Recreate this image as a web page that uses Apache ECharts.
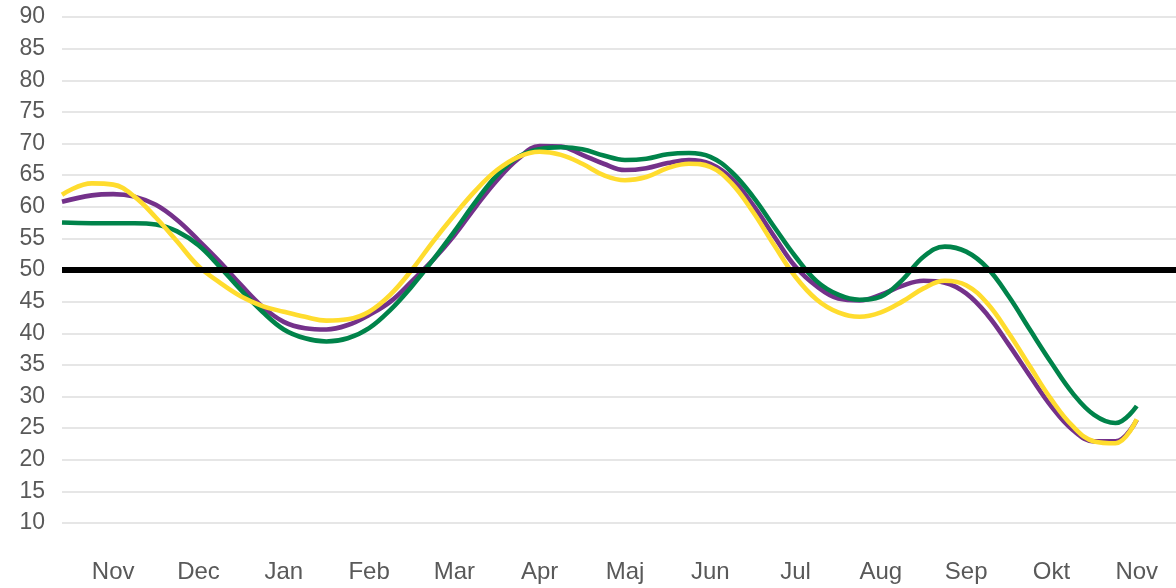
<!DOCTYPE html>
<html>
<head>
<meta charset="utf-8">
<script src="https://cdn.jsdelivr.net/npm/echarts@6/dist/echarts.min.js"></script>
<style>
html,body{margin:0;padding:0;background:#fff;}
#chart{width:1176px;height:588px;}
</style>
</head>
<body>
<div id="chart"></div>
<script>
// x positions in months (0 = first "Nov" label, 12 = last "Nov" label)
const xPos = [-0.6, -0.25, 0, 0.25, 0.5, 0.75, 1, 1.25, 1.5, 1.75, 2, 2.25, 2.5, 2.75, 3, 3.25, 3.5, 3.75, 4, 4.25, 4.5, 4.75, 5, 5.25, 5.5, 5.75, 6, 6.25, 6.5, 6.75, 7, 7.25, 7.5, 7.75, 8, 8.25, 8.5, 8.75, 9, 9.25, 9.5, 9.75, 10, 10.25, 10.5, 10.75, 11, 11.25, 11.5, 11.75, 12];
const purple = [60.8, 61.8, 62.0, 61.6, 60.3, 57.9, 54.7, 51.3, 47.6, 44.2, 41.8, 40.8, 40.6, 41.3, 42.9, 45.0, 48.2, 51.6, 55.5, 60.0, 64.2, 67.6, 69.6, 69.5, 68.2, 66.8, 65.8, 66.1, 66.9, 67.4, 66.8, 64.5, 60.3, 55.3, 50.5, 47.4, 45.5, 45.2, 46.1, 47.5, 48.3, 48.0, 46.3, 42.9, 38.2, 33.2, 28.4, 24.7, 22.9, 22.9, 26.3];
const green  = [57.5, 57.4, 57.4, 57.4, 57.2, 56.1, 53.9, 50.5, 46.8, 43.4, 40.6, 39.2, 38.7, 39.2, 40.8, 43.7, 47.4, 51.6, 56.1, 60.8, 65.0, 67.9, 69.1, 69.4, 69.1, 68.1, 67.4, 67.6, 68.3, 68.5, 67.9, 65.5, 61.6, 56.8, 52.1, 48.2, 46.1, 45.3, 45.8, 48.4, 52.1, 53.7, 52.9, 50.3, 45.8, 40.5, 35.3, 30.5, 27.1, 25.8, 28.5];
const yellow = [61.9, 63.7, 63.5, 61.6, 58.3, 54.5, 50.6, 48.0, 45.8, 44.3, 43.4, 42.6, 42.0, 42.2, 43.4, 46.1, 50.0, 54.5, 58.7, 62.6, 65.8, 67.9, 68.7, 68.2, 66.8, 65.0, 64.2, 64.7, 66.1, 66.8, 66.3, 63.7, 59.2, 53.9, 48.9, 45.3, 43.3, 42.6, 43.3, 45.0, 47.1, 48.3, 47.6, 44.7, 40.0, 34.7, 29.5, 25.3, 22.9, 22.6, 26.4];
const monthLabels = ['Nov', 'Dec', 'Jan', 'Feb', 'Mar', 'Apr', 'Maj', 'Jun', 'Jul', 'Aug', 'Sep', 'Okt', 'Nov'];
const labelPos = [0, 1, 2, 3, 4, 5, 6, 7, 8, 9, 10, 11, 12];
const refLevel = 50;

const pairs = arr => xPos.map((x, i) => [x, arr[i]]);
const font = '"Liberation Sans", Arial, sans-serif';

const chart = echarts.init(document.getElementById('chart'), null, {renderer: 'canvas'});
function lineSeries(name, arr, color, z) {
  return {
    name, type: 'line', data: pairs(arr), smooth: 0.4, showSymbol: false, symbol: 'none',
    lineStyle: {color, width: 4.6, cap: 'butt', join: 'round'}, itemStyle: {color}, z, animation: false
  };
}
chart.setOption({
  animation: false,
  backgroundColor: '#ffffff',
  grid: {left: 62, right: 0, top: 17, bottom: 65},
  xAxis: {
    type: 'value', min: -0.6, max: 12.46,
    axisLine: {show: false}, axisTick: {show: false}, splitLine: {show: false},
    axisLabel: {
      customValues: labelPos,
      formatter: v => monthLabels[Math.round(v)],
      color: '#595959', fontSize: 24, fontFamily: font, margin: 37
    }
  },
  yAxis: {
    type: 'value', min: 10, max: 90, interval: 5,
    axisLine: {show: false}, axisTick: {show: false},
    axisLabel: {color: '#595959', fontSize: 23, fontFamily: font, margin: 17},
    splitLine: {lineStyle: {color: '#e6e6e6', width: 2}}
  },
  series: [
    {
      type: 'line', data: [], z: 1,
      markLine: {
        silent: true, symbol: ['none', 'none'], label: {show: false},
        lineStyle: {color: '#000000', width: 6, type: 'solid'},
        data: [{yAxis: refLevel}], animation: false
      }
    },
    lineSeries('purple', purple, '#74318a', 2),
    lineSeries('green', green, '#00834a', 3),
    lineSeries('yellow', yellow, '#ffdc2e', 4)
  ]
});
</script>
</body>
</html>
